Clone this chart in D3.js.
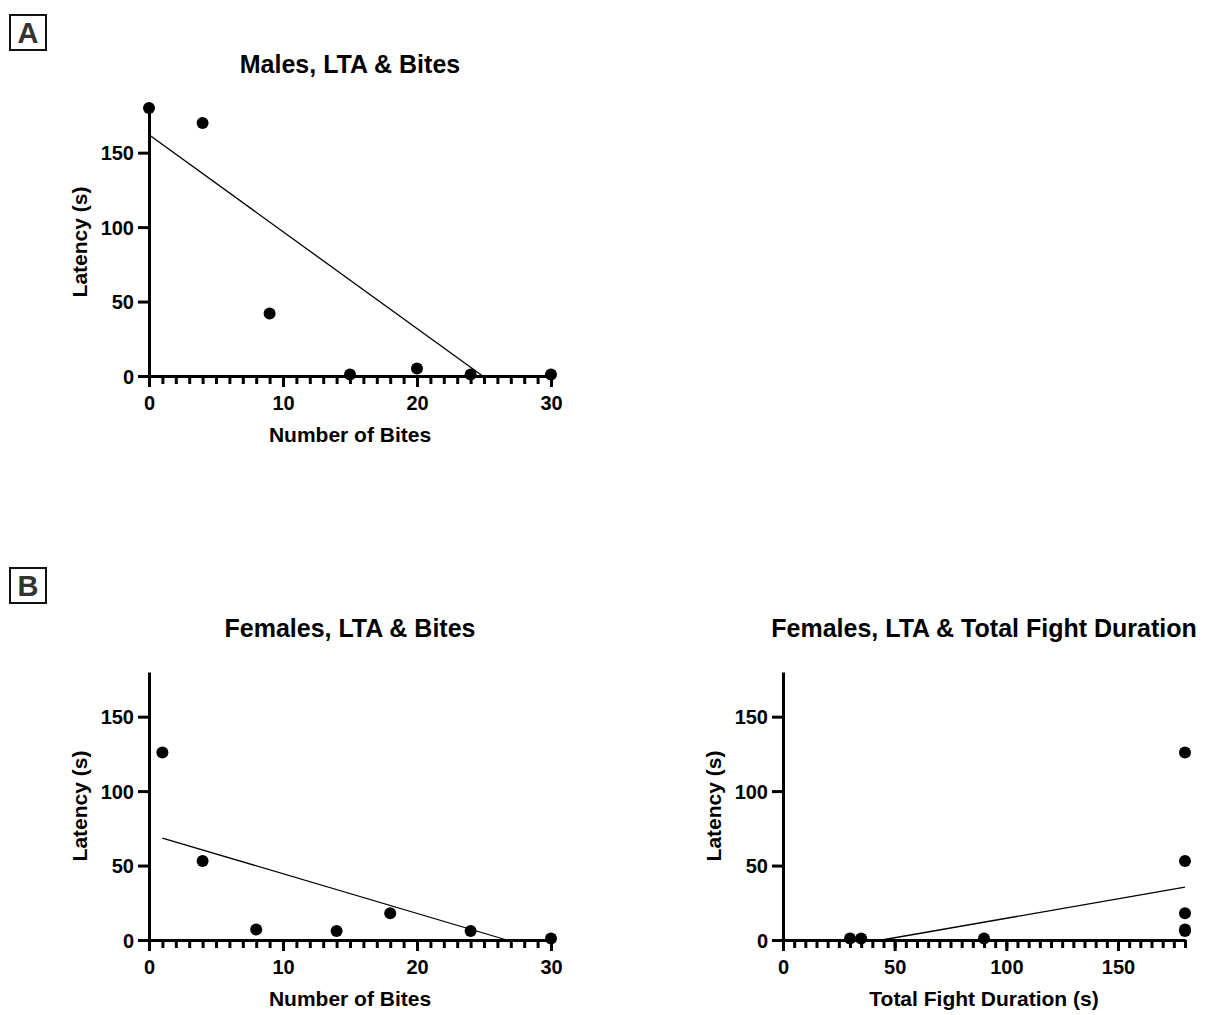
<!DOCTYPE html>
<html>
<head>
<meta charset="utf-8">
<script src="https://cdn.jsdelivr.net/npm/d3@7"></script>
<style>
  body { margin: 0; background: #fff; }
  svg text { font-family: "Liberation Sans", Arial, sans-serif; font-weight: bold; fill: #000; }
  .axis path, .axis line { stroke: #000; stroke-width: 3; }
  .panel-letter { fill: #333; }
</style>
</head>
<body>
<div id="wrapper"></div>
<script>
// data
const malesBites = [0, 4, 9, 15, 20, 24, 30];
const malesLatency = [180, 170, 42, 1, 5, 1, 1];
const malesFitX = [0, 24.9];
const malesFitY = [162, 0];

const femalesBites = [1, 4, 8, 14, 18, 24, 30];
const femalesLatencyBites = [126, 53, 7, 6, 18, 6, 1];
const femalesBitesFitX = [1, 26.7];
const femalesBitesFitY = [68.5, 0];

const femalesDuration = [30, 35, 90, 180, 180, 180, 180, 180];
const femalesLatencyDuration = [1, 1, 1, 126, 53, 18, 7, 6];
const femalesDurationFitX = [44.2, 180];
const femalesDurationFitY = [0, 35.5];

const latencyTicks = [0, 50, 100, 150];
const bitesTicks = [0, 10, 20, 30];
const durationTicks = [0, 50, 100, 150];

function draw() {
    const dimensions = { width: 1206, height: 1015, plotWidth: 402, plotHeight: 268 };

    const svg = d3.select('#wrapper')
        .append('svg')
        .attr('width', dimensions.width)
        .attr('height', dimensions.height);

    // panel letters
    const letters = [{ t: 'A', x: 10, y: 15 }, { t: 'B', x: 10, y: 568 }];
    letters.forEach(l => {
        svg.append('rect')
            .attr('x', l.x).attr('y', l.y)
            .attr('width', 36).attr('height', 35)
            .attr('fill', 'none')
            .attr('stroke', '#111')
            .attr('stroke-width', 2);
        svg.append('text')
            .attr('class', 'panel-letter')
            .attr('x', l.x + 18).attr('y', l.y + 28)
            .attr('text-anchor', 'middle')
            .style('font-size', '29px')
            .text(l.t);
    });

    function drawPanel(cfg) {
        const g = svg.append('g')
            .attr('transform', `translate(${cfg.left},${cfg.top})`);

        const xScale = d3.scaleLinear()
            .domain(cfg.xDomain)
            .range([0, dimensions.plotWidth]);
        const yScale = d3.scaleLinear()
            .domain([0, 180])
            .range([dimensions.plotHeight, 0]);

        // minor x ticks
        g.append('g')
            .attr('class', 'axis')
            .attr('transform', `translate(0,${dimensions.plotHeight})`)
            .call(d3.axisBottom(xScale)
                .tickValues(d3.range(cfg.xDomain[0], cfg.xDomain[1] + 0.001, cfg.minorStep))
                .tickSize(8)
                .tickSizeOuter(0)
                .tickFormat(''));

        const xAxis = g.append('g')
            .attr('class', 'axis')
            .attr('transform', `translate(0,${dimensions.plotHeight})`)
            .call(d3.axisBottom(xScale)
                .tickValues(cfg.xTicks)
                .tickSize(11)
                .tickSizeOuter(0)
                .tickPadding(9));
        xAxis.selectAll('text').style('font-size', '20px');

        const yAxis = g.append('g')
            .attr('class', 'axis')
            .call(d3.axisLeft(yScale)
                .tickValues(latencyTicks)
                .tickSize(11)
                .tickSizeOuter(0)
                .tickPadding(4));
        yAxis.selectAll('text').style('font-size', '20px').attr('dy', '0.36em');

        // fit line
        const lineGen = d3.line()
            .x(d => xScale(d[0]))
            .y(d => yScale(d[1]));
        g.append('path')
            .attr('d', lineGen(d3.zip(cfg.fitX, cfg.fitY)))
            .attr('fill', 'none')
            .attr('stroke', '#000')
            .attr('stroke-width', 1.3);

        // points
        g.selectAll('.dot')
            .data(d3.zip(cfg.x, cfg.y))
            .enter()
            .append('circle')
            .attr('class', 'dot')
            .attr('cx', d => xScale(d[0]))
            .attr('cy', d => yScale(d[1]))
            .attr('r', 6)
            .attr('fill', '#000');

        // titles
        g.append('text')
            .attr('x', dimensions.plotWidth / 2)
            .attr('y', -35)
            .attr('text-anchor', 'middle')
            .style('font-size', '25px')
            .text(cfg.title);
        g.append('text')
            .attr('x', dimensions.plotWidth / 2)
            .attr('y', dimensions.plotHeight + 66)
            .attr('text-anchor', 'middle')
            .style('font-size', '21px')
            .text(cfg.xLabel);
        g.append('text')
            .attr('transform', `translate(${-62},${dimensions.plotHeight / 2}) rotate(-90)`)
            .attr('text-anchor', 'middle')
            .style('font-size', '21px')
            .text('Latency (s)');
    }

    drawPanel({
        left: 149, top: 108,
        xDomain: [0, 30], xTicks: bitesTicks, minorStep: 1,
        x: malesBites, y: malesLatency, fitX: malesFitX, fitY: malesFitY,
        title: 'Males, LTA & Bites', xLabel: 'Number of Bites'
    });
    drawPanel({
        left: 149, top: 672,
        xDomain: [0, 30], xTicks: bitesTicks, minorStep: 1,
        x: femalesBites, y: femalesLatencyBites, fitX: femalesBitesFitX, fitY: femalesBitesFitY,
        title: 'Females, LTA & Bites', xLabel: 'Number of Bites'
    });
    drawPanel({
        left: 783, top: 672,
        xDomain: [0, 180], xTicks: durationTicks, minorStep: 5,
        x: femalesDuration, y: femalesLatencyDuration, fitX: femalesDurationFitX, fitY: femalesDurationFitY,
        title: 'Females, LTA & Total Fight Duration', xLabel: 'Total Fight Duration (s)'
    });
}

draw();
</script>
</body>
</html>
